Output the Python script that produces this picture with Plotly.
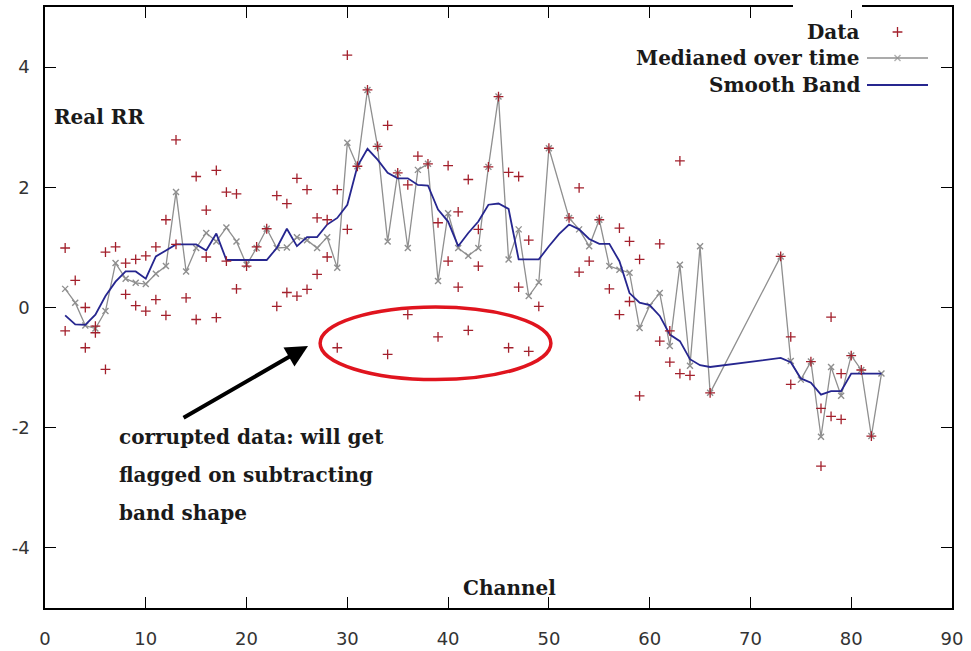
import plotly.graph_objects as go

# ---- data -----------------------------------------------------------------
# raw samples per channel (some channels carry two samples)
data_ch = [2, 2, 3, 4, 4, 5, 5, 6, 6, 7, 8, 8, 9, 9, 10, 10, 11, 11, 12, 12,
           13, 13, 14, 15, 15, 16, 16, 17, 17, 18, 18, 19, 19, 20, 21, 22,
           23, 23, 24, 24, 25, 25, 26, 26, 27, 27, 28, 28, 29, 29, 30, 30,
           31, 32, 33, 34, 34, 35, 36, 36, 37, 38, 39, 39, 40, 40, 41, 41,
           42, 42, 43, 43, 44, 45, 46, 46, 47, 47, 48, 48, 49, 50, 52, 53,
           53, 54, 55, 56, 57, 57, 58, 58, 59, 59, 61, 61, 62, 62, 63, 63,
           64, 66, 73, 74, 74, 76, 77, 77, 78, 78, 79, 79, 80, 81, 82]
data_val = [0.99, -0.39, 0.45, 0.00, -0.67, -0.31, -0.42, 0.92, -1.03, 1.01,
            0.74, 0.22, 0.80, 0.03, 0.86, -0.06, 1.01, 0.13, 1.46, -0.13,
            2.79, 1.05, 0.16, 2.18, -0.20, 1.62, 0.84, 2.28, -0.17, 1.92,
            0.77, 1.89, 0.31, 0.69, 1.01, 1.31, 1.86, 0.02, 1.73, 0.25,
            2.15, 0.19, 1.96, 0.30, 1.49, 0.55, 1.46, 0.84, 1.96, -0.67,
            4.20, 1.30, 2.35, 3.62, 2.68, 3.03, -0.78, 2.24, 2.04, -0.12,
            2.52, 2.39, 1.41, -0.49, 2.36, 0.77, 1.59, 0.34, 2.13, -0.38,
            1.30, 0.69, 2.34, 3.51, 2.25, -0.67, 2.18, 0.34, 1.12, -0.73,
            0.02, 2.65, 1.49, 1.99, 0.59, 0.77, 1.46, 0.31, 1.32, -0.12,
            1.10, 0.10, 0.80, -1.47, 1.06, -0.56, -0.39, -0.91, 2.44, -1.10,
            -1.13, -1.42, 0.85, -0.49, -1.28, -0.90, -1.68, -2.64, -0.16,
            -1.81, -1.10, -1.86, -0.80, -1.04, -2.14]

# median over time
median_ch = [2, 3, 4, 5, 6, 7, 8, 9, 10, 11, 12, 13, 14, 15, 16, 17, 18, 19,
             20, 21, 22, 23, 24, 25, 26, 27, 28, 29, 30, 31, 32, 33, 34, 35,
             36, 37, 38, 39, 40, 41, 42, 43, 44, 45, 46, 47, 48, 49, 50, 52,
             53, 54, 55, 56, 57, 58, 59, 60, 61, 62, 63, 64, 65, 66, 73, 74,
             75, 76, 77, 78, 79, 80, 81, 82, 83]
median_val = [0.31, 0.08, -0.30, -0.35, -0.06, 0.74, 0.48, 0.41, 0.39, 0.56,
              0.69, 1.92, 0.60, 0.99, 1.24, 1.10, 1.33, 1.10, 0.71, 0.99,
              1.31, 0.99, 1.00, 1.17, 1.12, 0.99, 1.17, 0.66, 2.74, 2.35,
              3.62, 2.68, 1.10, 2.24, 0.99, 2.29, 2.39, 0.44, 1.57, 0.99,
              0.86, 0.99, 2.34, 3.51, 0.80, 1.30, 0.19, 0.42, 2.65, 1.49,
              1.30, 1.02, 1.46, 0.69, 0.63, 0.58, -0.34, 0.03, 0.24, -0.64,
              0.71, -0.97, 1.02, -1.42, 0.85, -0.89, -1.20, -0.90, -2.15,
              -0.99, -1.47, -0.80, -1.04, -2.14, -1.10]

# smoothed band shape
band_ch = [2, 3, 4, 5, 6, 7, 8, 9, 10, 11, 12, 13, 14, 15, 16, 17, 18, 19,
           20, 21, 22, 23, 24, 25, 26, 27, 28, 29, 30, 31, 32, 33, 34, 35,
           36, 37, 38, 39, 40, 41, 42, 43, 44, 45, 46, 47, 48, 49, 50, 51,
           52, 53, 54, 55, 56, 57, 58, 59, 60, 61, 62, 63, 64, 65, 66, 73,
           74, 75, 76, 77, 78, 79, 80, 81, 82, 83]
band_val = [-0.13, -0.28, -0.29, -0.12, 0.19, 0.43, 0.60, 0.60, 0.48, 0.85,
            0.95, 1.05, 1.05, 1.05, 0.95, 1.23, 0.79, 0.79, 0.79, 0.79,
            0.79, 0.99, 1.31, 1.02, 1.17, 1.17, 1.38, 1.49, 1.71, 2.35,
            2.64, 2.46, 2.24, 2.15, 2.15, 2.04, 2.03, 1.63, 1.43, 1.02,
            1.24, 1.43, 1.71, 1.73, 1.64, 0.80, 0.80, 0.80, 1.02, 1.22,
            1.38, 1.30, 1.14, 1.06, 1.06, 0.77, 0.24, 0.08, 0.04, -0.14,
            -0.45, -0.56, -0.86, -0.96, -0.99, -0.84, -0.91, -1.18, -1.25,
            -1.45, -1.39, -1.39, -1.10, -1.10, -1.10, -1.10]

x_ticks = [0, 10, 20, 30, 40, 50, 60, 70, 80, 90]
y_ticks = [-4, -2, 0, 2, 4]
y_tick_text = ["-4", "-2", "0", "2", "4"]

# ---- styling ---------------------------------------------------------------
RED = "#a3202c"
GRAY = "#8f8f8f"
BLUE = "#26268f"
SERIF = "DejaVu Serif"
TEXT_SIZE = 20
W, H = 971, 651
ML, MR, MT, MB = 45, 19, 7, 43
PW, PH = W - ML - MR, H - MT - MB


def px(xp):
    """pixel column -> paper x"""
    return (xp - ML) / PW


def py(yp):
    """pixel row -> paper y"""
    return (H - MB - yp) / PH


def label(text, xp, yp, anchor="left"):
    return dict(text="<b>%s</b>" % text, x=px(xp), y=py(yp), xref="paper",
                yref="paper", xanchor=anchor, yanchor="middle", showarrow=False,
                font=dict(family=SERIF, size=TEXT_SIZE, color="#1a1a1a"))


fig = go.Figure()

fig.add_trace(go.Scatter(
    x=median_ch, y=median_val, mode="lines+markers", name="Medianed over time",
    line=dict(color=GRAY, width=1.3),
    marker=dict(symbol="x-thin", size=6, line=dict(color=GRAY, width=1.4)),
))
fig.add_trace(go.Scatter(
    x=band_ch, y=band_val, mode="lines", name="Smooth Band",
    line=dict(color=BLUE, width=1.8),
))
fig.add_trace(go.Scatter(
    x=data_ch, y=data_val, mode="markers", name="Data",
    marker=dict(symbol="cross-thin", size=7, line=dict(color=RED, width=1.3)),
))

# key drawn gnuplot-style: title on the left, sample on the right
legend_rows = [("Data", 32), ("Medianed over time", 58), ("Smooth Band", 85)]
sample_x0, sample_x1 = 867, 928
fig.add_trace(go.Scatter(
    x=[(sample_x0 + sample_x1) / 2], y=[legend_rows[0][1]], mode="markers",
    marker=dict(symbol="cross-thin", size=7, line=dict(color=RED, width=1.3)),
    xaxis="x2", yaxis="y2", hoverinfo="skip",
))
fig.add_trace(go.Scatter(
    x=[sample_x0, (sample_x0 + sample_x1) / 2, sample_x1],
    y=[legend_rows[1][1]] * 3, mode="lines+markers",
    line=dict(color=GRAY, width=1.3),
    marker=dict(symbol="x-thin", size=[0, 6, 0], line=dict(color=GRAY, width=1.4)),
    xaxis="x2", yaxis="y2", hoverinfo="skip",
))
fig.add_trace(go.Scatter(
    x=[sample_x0, sample_x1], y=[legend_rows[2][1]] * 2, mode="lines",
    line=dict(color=BLUE, width=1.8),
    xaxis="x2", yaxis="y2", hoverinfo="skip",
))

annotations = [label(text, 862, yrow, "right") for text, yrow in legend_rows]

# axis titles placed inside the frame
annotations.append(label("Real RR", 52, 117))
annotations.append(label("Channel", 510, 588, "center"))

note_lines = ["corrupted data: will get", "flagged on subtracting", "band shape"]
for i, line in enumerate(note_lines):
    annotations.append(label(line, 117, 437 + 38 * i))

# arrow pointing at the flagged points
annotations.append(dict(text="", x=26.1, y=-0.64, ax=13.6, ay=-1.85,
                        xref="x", yref="y", axref="x", ayref="y",
                        showarrow=True, arrowhead=2, arrowsize=1.1,
                        arrowwidth=4, arrowcolor="black", standoff=0))

shapes = [
    # ring around the corrupted samples
    dict(type="circle", xref="x", yref="y", x0=27.3, x1=50.2, y0=0.01, y1=-1.2,
         line=dict(color="#e0141e", width=3.5)),
    # key background cuts the top border
    dict(type="rect", xref="paper", yref="paper", x0=px(793), x1=px(862),
         y0=py(10), y1=py(3), fillcolor="white", line=dict(width=0), layer="above"),
]

axis_common = dict(showline=True, linecolor="black", linewidth=1.5, mirror="ticks",
                   ticks="inside", ticklen=11, tickwidth=1.3, tickcolor="black",
                   showgrid=False, zeroline=False,
                   tickfont=dict(family="DejaVu Sans", size=18, color="#333333"))

fig.update_layout(
    width=W, height=H, showlegend=False,
    paper_bgcolor="white", plot_bgcolor="white",
    margin=dict(l=ML, r=MR, t=MT, b=MB, autoexpand=False),
    xaxis=dict(range=[0, 90], tickvals=x_ticks, ticklabelstandoff=14, **axis_common),
    yaxis=dict(range=[-5, 5], tickvals=y_ticks, ticktext=y_tick_text,
               ticklabelstandoff=10, **axis_common),
    xaxis2=dict(range=[ML, W - MR], overlaying="x", visible=False, anchor="y2"),
    yaxis2=dict(range=[H - MB, MT], overlaying="y", visible=False, anchor="x2"),
    annotations=annotations, shapes=shapes,
)

fig.write_html("out.html")
